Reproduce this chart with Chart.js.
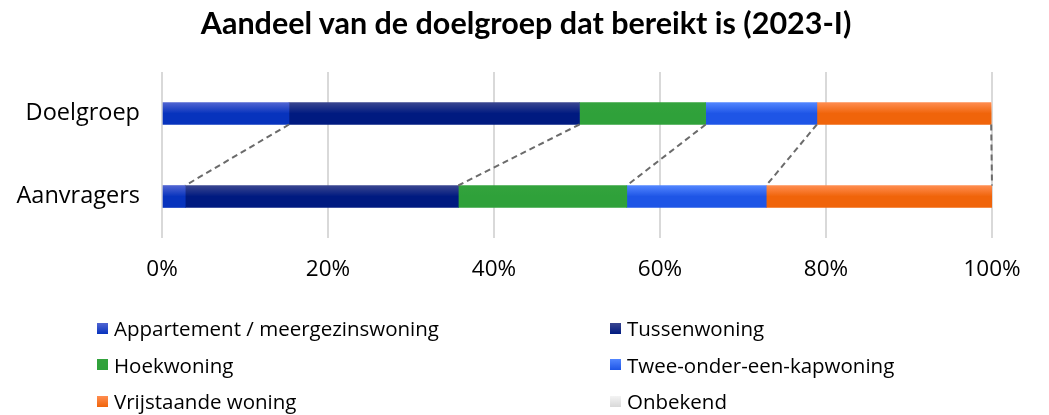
<!DOCTYPE html>
<html>
<head>
<meta charset="utf-8">
<script src="https://cdn.jsdelivr.net/npm/chart.js@4.4.1/dist/chart.umd.min.js"></script>
<style>
  html, body { margin: 0; padding: 0; background: #fff; }
  #wrap { position: relative; width: 1049px; height: 415px; }
  #title {
    position: absolute; left: 0; top: 3px; width: 1052px; text-align: center;
    font-family: Lato, sans-serif; font-weight: bold; font-size: 30.5px; color: #000;
    line-height: 38px;
  }
  #legend {
    position: absolute; left: 97px; top: 310px; width: 940px;
    display: grid; grid-template-columns: 513px 1fr; grid-auto-rows: 36.5px;
    font-family: "Open Sans", sans-serif; font-size: 20.5px; color: #000;
  }
  #legend .item { display: flex; align-items: center; white-space: nowrap; }
  #legend .box { width: 11px; height: 11px; margin-right: 6px; flex: none; }
</style>
</head>
<body>
<div id="wrap">
  <canvas id="chart" width="1049" height="415"></canvas>
  <div id="title">Aandeel van de doelgroep dat bereikt is (2023-I)</div>
  <div id="legend"></div>
</div>
<script>
const categories = ["Doelgroep", "Aanvragers"];
const seriesNames = [
  "Appartement / meergezinswoning",
  "Tussenwoning",
  "Hoekwoning",
  "Twee-onder-een-kapwoning",
  "Vrijstaande woning",
  "Onbekend"
];
// percentages per category (Doelgroep, Aanvragers)
const appartement = [15.3, 2.8];
const tussen      = [35.0, 32.9];
const hoek        = [15.2, 20.3];
const tweeOnder   = [13.4, 16.8];
const vrijstaand  = [21.0, 27.2];
const onbekend    = [0.1, 0.0];
const tickLabels  = ["0%", "20%", "40%", "60%", "80%", "100%"];

// [top, bottom] colour of each bar segment
const colors = [
  ["#5165d2", "#0733bd"],
  ["#3a4690", "#001a80"],
  ["#33a33d", "#2fa13a"],
  ["#5286ff", "#1e55e6"],
  ["#ff8d50", "#f0640a"],
  ["#f4f4f4", "#d8d8d8"]
];

const values = [appartement, tussen, hoek, tweeOnder, vrijstaand, onbekend];
const BAR = 22;

function barFill(i) {
  return (ctx) => {
    const chart = ctx.chart;
    const y = chart.scales && chart.scales.y;
    if (!y || ctx.dataIndex === undefined || !chart.chartArea) return colors[i][1];
    const cy = y.getPixelForValue(ctx.dataIndex);
    const g = chart.ctx.createLinearGradient(0, cy - BAR / 2, 0, cy + BAR / 2);
    g.addColorStop(0, colors[i][0]);
    g.addColorStop(0.5, colors[i][1]);
    g.addColorStop(1, colors[i][1]);
    return g;
  };
}

// dashed lines joining segment edges of the two bars
const connectors = {
  id: "connectors",
  afterDatasetsDraw(chart) {
    const { ctx, scales: { x, y } } = chart;
    const y0 = y.getPixelForValue(0) + BAR / 2;
    const y1 = y.getPixelForValue(1) - BAR / 2;
    let a = 0, b = 0;
    ctx.save();
    ctx.strokeStyle = "#6b6b6b";
    ctx.lineWidth = 2;
    ctx.setLineDash([6, 4]);
    for (let i = 0; i < 5; i++) {
      a += values[i][0];
      b += values[i][1];
      ctx.beginPath();
      ctx.moveTo(x.getPixelForValue(a), y0);
      ctx.lineTo(x.getPixelForValue(b), y1);
      ctx.stroke();
    }
    ctx.restore();
  }
};

new Chart(document.getElementById("chart"), {
  type: "bar",
  data: {
    labels: categories,
    datasets: seriesNames.map((name, i) => ({
      label: name,
      data: values[i],
      backgroundColor: barFill(i),
      borderWidth: 0,
      barThickness: BAR
    }))
  },
  options: {
    indexAxis: "y",
    responsive: false,
    animation: false,
    layout: { padding: { left: 0, right: 57, top: 72, bottom: 132 } },
    plugins: {
      legend: { display: false },
      tooltip: { enabled: false }
    },
    scales: {
      x: {
        stacked: true,
        min: 0, max: 100,
        afterBuildTicks(scale) {
          scale.ticks = tickLabels.map((_, i) => ({ value: i * 20 }));
        },
        afterFit(scale) { scale.height = 45; },
        grid: { color: "#d9d9d9", lineWidth: 2, drawTicks: false },
        border: { display: false },
        ticks: {
          color: "#000",
          padding: 18,
          font: { family: "Open Sans", size: 22.5 },
          callback: (v) => tickLabels[Math.round(v / 20)]
        }
      },
      y: {
        stacked: true,
        afterFit(scale) { scale.width = 162; },
        grid: { display: false, drawTicks: false },
        border: { display: false },
        ticks: {
          color: "#000",
          padding: 22,
          font: { family: "Open Sans", size: 23.5 }
        }
      }
    }
  },
  plugins: [connectors]
});

// two-column legend below the plot
const legend = document.getElementById("legend");
seriesNames.forEach((name, i) => {
  const item = document.createElement("div");
  item.className = "item";
  const box = document.createElement("span");
  box.className = "box";
  box.style.background = "linear-gradient(" + colors[i][0] + ", " + colors[i][1] + ")";
  const txt = document.createElement("span");
  txt.textContent = name;
  item.appendChild(box);
  item.appendChild(txt);
  legend.appendChild(item);
});
</script>
</body>
</html>
